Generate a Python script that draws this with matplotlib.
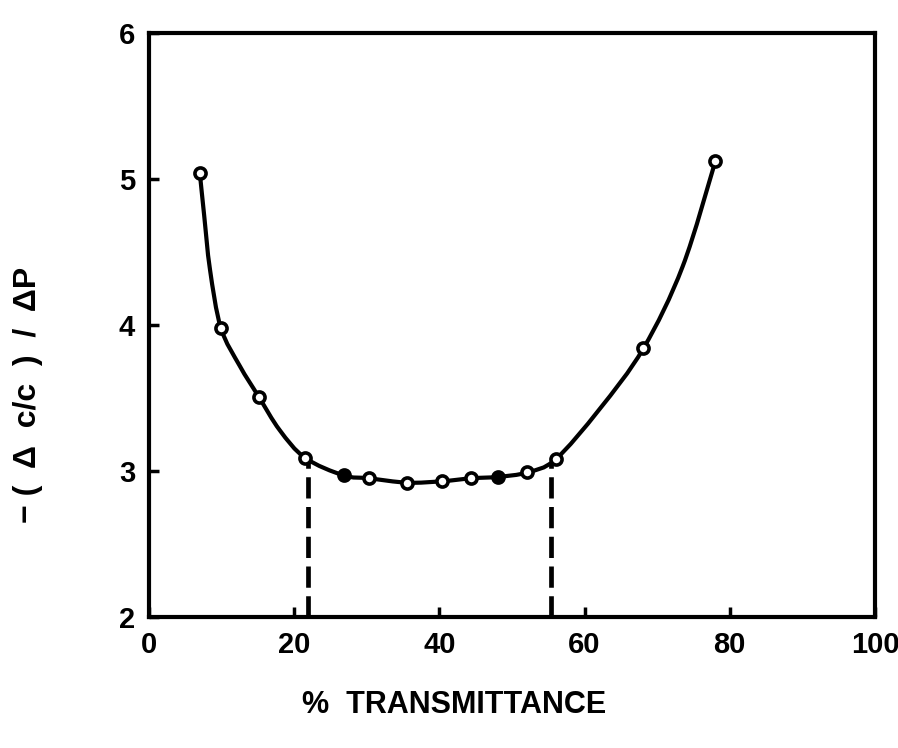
import matplotlib.pyplot as plt
from matplotlib.path import Path
from matplotlib.patches import PathPatch

# measured points (% transmittance, -(dc/c)/dP)
T = [7.0, 9.9, 15.1, 21.5, 26.8, 30.3, 35.6, 40.4, 44.4, 48.1, 52.1, 56.0, 68.1, 78.0]
err = [5.04, 3.98, 3.51, 3.09, 2.97, 2.95, 2.92, 2.93, 2.95, 2.96, 2.99, 3.08, 3.84, 5.12]
filled = [False, False, False, False, True, False, False, False, False, True, False, False, False, False]

# hand-drawn curve
curve_T = [7.0, 7.6, 8.4, 9.9, 12.5, 15.1, 18.0, 21.5, 26.8, 30.3, 35.6, 40.4,
           44.4, 48.1, 52.1, 56.0, 62.0, 68.1, 73.5, 78.0]
curve_err = [5.04, 4.75, 4.38, 3.98, 3.72, 3.51, 3.28, 3.09, 2.97, 2.95, 2.92, 2.93,
             2.95, 2.96, 2.99, 3.08, 3.42, 3.84, 4.40, 5.12]

# optimum range limits
limits_T = [21.9, 55.4]
limits_top = [3.06, 3.06]

plt.rcParams['font.family'] = ['Liberation Sans', 'DejaVu Sans']
plt.rcParams['font.weight'] = 'bold'

fig = plt.figure(figsize=(8.98, 7.48), dpi=100)
ax = fig.add_axes([149 / 898, 1 - 617 / 748, (875 - 149) / 898, (617 - 33) / 748])

# smooth stroke through the traced points (Catmull-Rom as cubic Bezier)
verts = [(curve_T[0], curve_err[0])]
codes = [Path.MOVETO]
n = len(curve_T)
for i in range(n - 1):
    p0 = (curve_T[max(i - 1, 0)], curve_err[max(i - 1, 0)])
    p1 = (curve_T[i], curve_err[i])
    p2 = (curve_T[i + 1], curve_err[i + 1])
    p3 = (curve_T[min(i + 2, n - 1)], curve_err[min(i + 2, n - 1)])
    c1 = (p1[0] + (p2[0] - p0[0]) / 6, p1[1] + (p2[1] - p0[1]) / 6)
    c2 = (p2[0] - (p3[0] - p1[0]) / 6, p2[1] - (p3[1] - p1[1]) / 6)
    verts += [c1, c2, p2]
    codes += [Path.CURVE4] * 3
ax.add_patch(PathPatch(Path(verts, codes), fill=False, edgecolor='black', lw=3,
                       capstyle='round', zorder=2))

for t, top in zip(limits_T, limits_top):
    ax.plot([t, t], [2, top], color='black', lw=3.4, dashes=(4.5, 1.8), zorder=1)

for t, e, f in zip(T, err, filled):
    ax.plot(t, e, 'o', ms=8, mew=2.6, mec='black', mfc='black' if f else 'white', zorder=3)

ax.set_xlim(0, 100)
ax.set_ylim(2, 6)
ax.set_xticks([0, 20, 40, 60, 80, 100])
ax.set_yticks([2, 3, 4, 5, 6])
ax.tick_params(direction='in', length=7, width=2.5, labelsize=21, pad=10)
for s in ax.spines.values():
    s.set_linewidth(3)

ax.set_xlabel('%  TRANSMITTANCE', fontsize=22, fontweight='bold')
ax.xaxis.set_label_coords(0.42, -0.125)
ax.set_ylabel('\u2212 (  \u0394  c/c  )  /  \u0394P', fontsize=23, fontweight='bold')
ax.yaxis.set_label_coords(-0.146, 0.38)

fig.savefig('out.png', dpi=100)
